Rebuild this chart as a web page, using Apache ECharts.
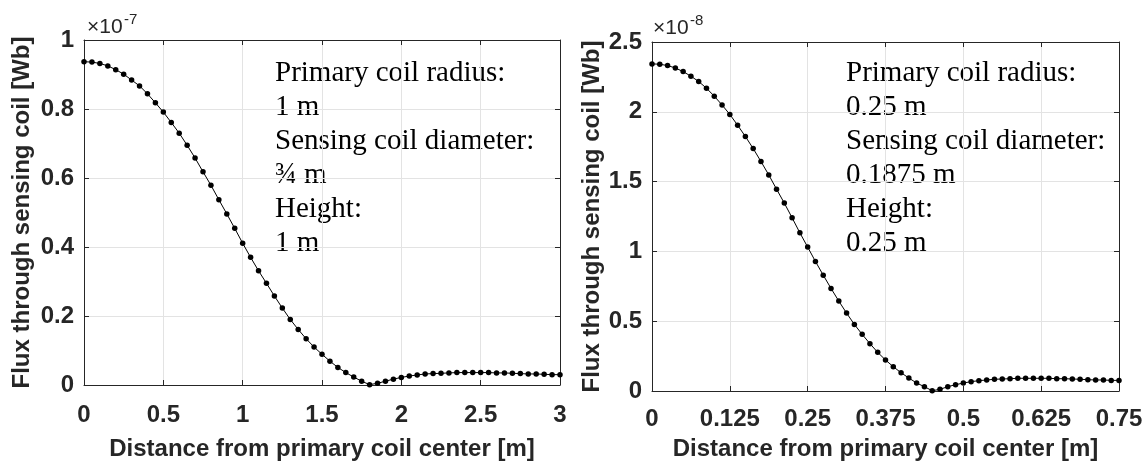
<!DOCTYPE html>
<html>
<head>
<meta charset="utf-8">
<script src="https://cdn.jsdelivr.net/npm/echarts@6/dist/echarts.min.js"></script>
<style>
  html, body { margin: 0; padding: 0; background: #fff; }
  #chart { width: 1146px; height: 465px; }
</style>
</head>
<body>
<div id="chart"></div>
<script>
// distance from primary coil center [m]
var leftDist = [0, 0.05, 0.1, 0.15, 0.2, 0.25, 0.3, 0.35, 0.4, 0.45,
    0.5, 0.55, 0.6, 0.65, 0.7, 0.75, 0.8, 0.85, 0.9, 0.95,
    1, 1.05, 1.1, 1.15, 1.2, 1.25, 1.3, 1.35, 1.4, 1.45,
    1.5, 1.55, 1.6, 1.65, 1.7, 1.75, 1.8, 1.85, 1.9, 1.95,
    2, 2.05, 2.1, 2.15, 2.2, 2.25, 2.3, 2.35, 2.4, 2.45,
    2.5, 2.55, 2.6, 2.65, 2.7, 2.75, 2.8, 2.85, 2.9, 2.95, 3];

// flux, in units of 1e-7 Wb
var leftFlux = [0.937, 0.936, 0.932, 0.925, 0.914, 0.901, 0.884, 0.867, 0.844, 0.818,
    0.791, 0.761, 0.730, 0.695, 0.658, 0.618, 0.579, 0.537, 0.496, 0.454,
    0.411, 0.370, 0.331, 0.295, 0.258, 0.223, 0.190, 0.161, 0.134, 0.110,
    0.089, 0.069, 0.051, 0.036, 0.023, 0.011, 0.001, 0.005, 0.011, 0.017,
    0.022, 0.026, 0.029, 0.032, 0.033, 0.034, 0.035, 0.036, 0.036, 0.036,
    0.036, 0.036, 0.035, 0.035, 0.034, 0.033, 0.032, 0.032, 0.031, 0.030, 0.030];

var rightDist = [0, 0.0125, 0.025, 0.0375, 0.05, 0.0625, 0.075, 0.0875, 0.1, 0.1125,
    0.125, 0.1375, 0.15, 0.1625, 0.175, 0.1875, 0.2, 0.2125, 0.225, 0.2375,
    0.25, 0.2625, 0.275, 0.2875, 0.3, 0.3125, 0.325, 0.3375, 0.35, 0.3625,
    0.375, 0.3875, 0.4, 0.4125, 0.425, 0.4375, 0.45, 0.4625, 0.475, 0.4875,
    0.5, 0.5125, 0.525, 0.5375, 0.55, 0.5625, 0.575, 0.5875, 0.6, 0.6125,
    0.625, 0.6375, 0.65, 0.6625, 0.675, 0.6875, 0.7, 0.7125, 0.725, 0.7375, 0.75];

// flux, in units of 1e-8 Wb
var rightFlux = [2.343, 2.341, 2.331, 2.314, 2.288, 2.255, 2.217, 2.169, 2.112, 2.049,
    1.981, 1.904, 1.823, 1.737, 1.644, 1.548, 1.446, 1.346, 1.241, 1.133,
    1.031, 0.928, 0.830, 0.735, 0.644, 0.558, 0.477, 0.406, 0.339, 0.277,
    0.222, 0.174, 0.131, 0.093, 0.057, 0.031, 0.002, 0.012, 0.031, 0.045,
    0.057, 0.067, 0.074, 0.079, 0.084, 0.086, 0.088, 0.091, 0.091, 0.091,
    0.091, 0.091, 0.088, 0.088, 0.086, 0.084, 0.081, 0.079, 0.079, 0.076, 0.076];

var leftXTicks = { min: 0, max: 3, interval: 0.5 };
var leftYTicks = { min: 0, max: 1, interval: 0.2 };
var rightXTicks = { min: 0, max: 0.75, interval: 0.125 };
var rightYTicks = { min: 0, max: 2.5, interval: 0.5 };

var leftNote = ['Primary coil radius:', '1 m', 'Sensing coil diameter:', '¾ m', 'Height:', '1 m'];
var rightNote = ['Primary coil radius:', '0.25 m', 'Sensing coil diameter:', '0.1875 m', 'Height:', '0.25 m'];

var xName = 'Distance from primary coil center [m]';
var yName = 'Flux through sensing coil [Wb]';

var axisColor = '#262626';
var gridColor = '#e3e3e3';
var sansFont = '"Liberation Sans", Arial, sans-serif';
var labelFont = {
    fontFamily: sansFont,
    fontWeight: 'bold',
    fontSize: 24,
    color: axisColor
};

function zip(xs, ys) {
    var arr = [];
    for (var i = 0; i < xs.length; i++) {
        arr.push([xs[i], ys[i]]);
    }
    return arr;
}

function $extend(a, b) {
    for (var k in b) {
        a[k] = b[k];
    }
    return a;
}

// main axis with labels, or mirror axis (top / right) with ticks only
function makeAxis(gridIndex, position, ticks, main, name, nameGap, margin) {
    var axis = {
        type: 'value',
        gridIndex: gridIndex,
        position: position,
        min: ticks.min,
        max: ticks.max,
        interval: ticks.interval,
        axisLine: { show: true, onZero: false, lineStyle: { color: axisColor, width: 1 } },
        axisTick: { show: true, inside: true, length: 5, lineStyle: { color: axisColor, width: 1 } },
        splitLine: { show: main, lineStyle: { color: gridColor, width: 1 } },
        axisLabel: { show: false }
    };
    if (main) {
        axis.axisLabel = $extend({ show: true, margin: margin }, labelFont);
        axis.name = name;
        axis.nameLocation = 'middle';
        axis.nameGap = nameGap;
        axis.nameMoveOverlap = false;
        axis.nameTextStyle = $extend({}, labelFont);
    }
    return axis;
}

function noteText(x, y, lines) {
    return {
        type: 'text',
        x: x,
        y: y,
        style: {
            text: lines.join('\n'),
            fontFamily: '"Liberation Serif", "Times New Roman", serif',
            fontSize: 29,
            lineHeight: 34,
            fill: '#000',
            verticalAlign: 'top'
        }
    };
}

// the "x10^n" exponent label above the y axis
function expText(x, y, base, sup) {
    return [{
        type: 'text',
        x: x,
        y: y,
        style: {
            text: base,
            fontFamily: sansFont,
            fontSize: 21,
            fill: axisColor,
            verticalAlign: 'middle'
        }
    }, {
        type: 'text',
        x: x + 37,
        y: y - 8,
        style: {
            text: sup,
            fontFamily: sansFont,
            fontSize: 15,
            fill: axisColor,
            verticalAlign: 'middle'
        }
    }];
}

function lineSeries(index, data) {
    return {
        type: 'line',
        xAxisIndex: index * 2,
        yAxisIndex: index * 2,
        data: data,
        symbol: 'circle',
        symbolSize: 5.5,
        showSymbol: true,
        itemStyle: { color: '#000' },
        lineStyle: { color: '#000', width: 1 },
        z: 5
    };
}

var chart = echarts.init(document.getElementById('chart'));

chart.setOption({
    animation: false,
    backgroundColor: '#fff',
    grid: [
        { left: 84, right: 586, top: 40, bottom: 80, outerBoundsMode: 'none' },
        { left: 652, right: 27, top: 42, bottom: 74, outerBoundsMode: 'none' }
    ],
    xAxis: [
        makeAxis(0, 'bottom', leftXTicks, true, xName, 52, 18),
        makeAxis(0, 'top', leftXTicks, false),
        makeAxis(1, 'bottom', rightXTicks, true, xName, 46, 16),
        makeAxis(1, 'top', rightXTicks, false)
    ],
    yAxis: [
        makeAxis(0, 'left', leftYTicks, true, yName, 50, 10),
        makeAxis(0, 'right', leftYTicks, false),
        makeAxis(1, 'left', rightYTicks, true, yName, 48, 10),
        makeAxis(1, 'right', rightYTicks, false)
    ],
    series: [
        lineSeries(0, zip(leftDist, leftFlux)),
        lineSeries(1, zip(rightDist, rightFlux))
    ],
    graphic: [
        noteText(275, 56, leftNote),
        noteText(846, 56, rightNote)
    ].concat(expText(87, 27.5, '×10', '-7'), expText(653, 28.5, '×10', '-8'))
});
</script>
</body>
</html>
